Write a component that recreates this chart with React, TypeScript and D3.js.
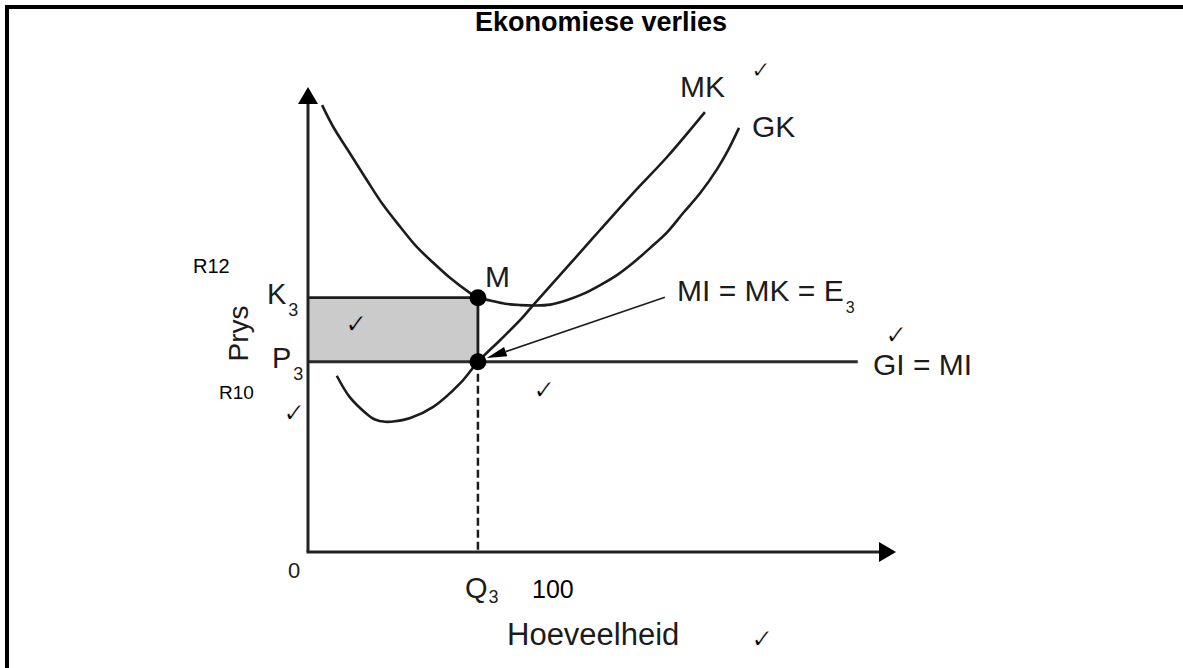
import React from 'react';
import * as d3 from 'd3';

// ---- Data (schematic units: quantity 0–100 on x, price 0–100 on y) ----
const chartTitle = 'Ekonomiese verlies';
const axisMax = 100;
const q3 = 28.9; // Q3
const p3 = 40.9; // P3 = R10
const k3 = 54.7; // K3 = R12
const priceLineEnd = 93.5; // GI = MI line end

// GK (average cost) curve
const gkQuantity = [2.4, 4.3, 7.1, 10, 12.8, 15.7, 18.5, 21.3, 24.2, 27, 28.9, 31, 33.5, 36.1, 38.6, 41.2, 44.1, 46.8, 49.7, 52.6, 55.3, 58.2, 61.1, 63.8, 66.7, 69.6, 71.4, 73.3];
const gkCost = [96.1, 91.4, 85.8, 80, 74.6, 69.9, 65.6, 62.2, 58.9, 56.2, 54.7, 54.1, 53.4, 53.1, 53, 53.2, 54.2, 55.5, 57.4, 59.6, 62.2, 65.4, 68.8, 72.9, 77.2, 82.4, 86.3, 91.2];

// MK (marginal cost) curve
const mkQuantity = [4.9, 7.1, 10, 11.4, 13.1, 14.8, 17.4, 21.3, 25.9, 28.9, 32.7, 36.1, 38.3, 44.1, 49.7, 55.3, 61.1, 67.5];
const mkCost = [37.9, 33.3, 29.7, 28.5, 28, 28.1, 28.8, 31.2, 36.3, 40.9, 45.6, 49.9, 53.1, 61.3, 69.3, 77.2, 85, 94.6];

// Annotation arrow "MI = MK = E3" -> equilibrium point
const annotationFrom = [60.7, 54.8];
const annotationTo = [30.4, 41.7];

const FONT = 'Liberation Sans, Arial, Helvetica, sans-serif';
const CHECK_FONT = 'DejaVu Sans, sans-serif';
const INK = '#1c1c1c';
const SHADE = '#cbcbcb';

export default function App() {
  const W = 1183;
  const H = 668;
  const x = d3.scaleLinear().domain([0, axisMax]).range([308, 896]);
  const y = d3.scaleLinear().domain([0, axisMax]).range([552, 87]);

  const line = d3
    .line<[number, number]>()
    .x((d) => x(d[0]))
    .y((d) => y(d[1]))
    .curve(d3.curveCatmullRom.alpha(0.5));

  const gkPts = gkQuantity.map((q, i) => [q, gkCost[i]] as [number, number]);
  const mkPts = mkQuantity.map((q, i) => [q, mkCost[i]] as [number, number]);

  const x0 = x(0);
  const y0 = y(0);
  const xEnd = x(axisMax);
  const yEnd = y(axisMax);

  // axis arrowheads
  const ah = 17;
  const aw = 10;
  const yArrow = `M${x0},${yEnd} L${x0 - aw},${yEnd + ah} L${x0 + aw},${yEnd + ah} Z`;
  const xArrow = `M${xEnd},${y0} L${xEnd - ah},${y0 - aw} L${xEnd - ah},${y0 + aw} Z`;

  // annotation arrow
  const ax1 = x(annotationFrom[0]);
  const ay1 = y(annotationFrom[1]);
  const ax2 = x(annotationTo[0]);
  const ay2 = y(annotationTo[1]);
  const ang = Math.atan2(ay2 - ay1, ax2 - ax1);
  const al = 20;
  const aww = 5;
  const bx = ax2 - al * Math.cos(ang);
  const by = ay2 - al * Math.sin(ang);
  const annHead = `M${ax2},${ay2} L${bx + aww * Math.sin(ang)},${by - aww * Math.cos(ang)} L${bx - aww * Math.sin(ang)},${by + aww * Math.cos(ang)} Z`;

  const check = (cx: number, cy: number, size = 27, bg = '#fff') => (
    <text
      x={cx}
      y={cy}
      fontFamily={CHECK_FONT}
      fontSize={size}
      fill="#000"
      stroke={bg}
      strokeWidth={0.6}
    >
      ✓
    </text>
  );

  return (
    <svg
      width={W}
      height={H}
      viewBox={`0 0 ${W} ${H}`}
      style={{ position: 'absolute', left: 0, top: 0, background: '#fff' }}
    >
      <rect x={0} y={0} width={W} height={H} fill="#fff" />
      {/* frame */}
      <line x1={5} y1={7} x2={W} y2={7} stroke="#000" strokeWidth={4} />
      <line x1={7} y1={5} x2={7} y2={H} stroke="#000" strokeWidth={4} />

      {/* title */}
      <text x={601} y={31} textAnchor="middle" fontFamily={FONT} fontWeight="bold" fontSize={27} fill="#000">
        {chartTitle}
      </text>

      {/* shaded loss area */}
      <rect x={x0} y={y(k3)} width={x(q3) - x0} height={y(p3) - y(k3)} fill={SHADE} />

      {/* K3 line and vertical */}
      <line x1={x0} y1={y(k3)} x2={x(q3)} y2={y(k3)} stroke={INK} strokeWidth={2.8} />
      <line x1={x(q3)} y1={y(k3)} x2={x(q3)} y2={y(p3)} stroke={INK} strokeWidth={2.8} />
      {/* P3 = GI = MI line */}
      <line x1={x0} y1={y(p3)} x2={x(priceLineEnd)} y2={y(p3)} stroke="#2a2a2a" strokeWidth={3} />
      {/* dashed Q3 */}
      <line x1={x(q3)} y1={y(p3)} x2={x(q3)} y2={y0} stroke={INK} strokeWidth={2.5} strokeDasharray="8,4" />

      {/* curves */}
      <path d={line(gkPts) || ''} fill="none" stroke={INK} strokeWidth={2.6} />
      <path d={line(mkPts) || ''} fill="none" stroke={INK} strokeWidth={2.6} />

      {/* axes */}
      <line x1={x0} y1={y0} x2={x0} y2={yEnd + ah - 2} stroke="#222" strokeWidth={3} />
      <line x1={x0 - 1.5} y1={y0} x2={xEnd - ah + 2} y2={y0} stroke="#222" strokeWidth={3} />
      <path d={yArrow} fill="#000" />
      <path d={xArrow} fill="#000" />

      {/* annotation arrow */}
      <line x1={ax1} y1={ay1} x2={bx} y2={by} stroke={INK} strokeWidth={1.6} />
      <path d={annHead} fill="#000" />

      {/* points */}
      <circle cx={x(q3)} cy={y(k3)} r={8.5} fill="#000" />
      <circle cx={x(q3)} cy={y(p3)} r={8.5} fill="#000" />

      {/* labels */}
      <g fontFamily={FONT} fill={INK}>
        <text x={680} y={97} fontSize={30}>MK</text>
        <text x={752} y={137} fontSize={30}>GK</text>
        <text x={485} y={287} fontSize={30}>M</text>
        <text x={677} y={301} fontSize={30}>
          MI = MK = E
          <tspan dx={2} dy={12} fontSize={16}>3</tspan>
        </text>
        <text x={873} y={375} fontSize={30}>GI = MI</text>

        <text x={267} y={304} fontSize={29}>
          K<tspan dx={2} dy={12} fontSize={18}>3</tspan>
        </text>
        <text x={272} y={368} fontSize={29}>
          P<tspan dx={2} dy={12} fontSize={18}>3</tspan>
        </text>
        <text x={465} y={598} fontSize={29}>
          Q<tspan dx={1} dy={5} fontSize={18}>3</tspan>
        </text>
        <text x={288} y={578} fontSize={22}>0</text>

        <text x={507} y={645} fontSize={31}>Hoeveelheid</text>
        <text transform="translate(248,333.5) rotate(-90)" textAnchor="middle" fontSize={28}>
          Prys
        </text>
      </g>

      {/* handwritten-style annotations */}
      <g fontFamily={FONT} fill="#000">
        <text x={193} y={273} fontSize={20}>R12</text>
        <text x={219} y={399} fontSize={19}>R10</text>
        <text x={532} y={598} fontSize={25}>100</text>
      </g>
      {check(751, 78, 24)}
      {check(345, 333, 27, SHADE)}
      {check(283, 422)}
      {check(533, 399)}
      {check(885, 344)}
      {check(751, 648)}
    </svg>
  );
}
